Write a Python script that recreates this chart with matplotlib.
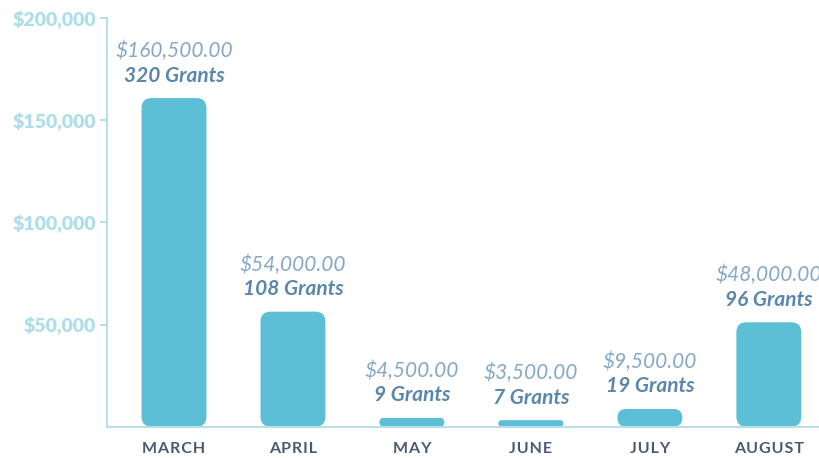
import matplotlib
matplotlib.use("Agg")
import matplotlib.pyplot as plt
from matplotlib.patches import FancyBboxPatch

months = ["MARCH", "APRIL", "MAY", "JUNE", "JULY", "AUGUST"]
amounts = [160500, 54000, 4500, 3500, 9500, 48000]
grants = [320, 108, 9, 7, 19, 96]
# bar heights as drawn in the picture (they differ a little from the labels)
heights = [160800, 56300, 4300, 3200, 8700, 51100]
yticks = [50000, 100000, 150000, 200000]

BAR = "#5dbfd6"
AXIS = "#b9e0ea"
TICK_TXT = "#addee9"
AMT = "#86a8c6"
GRANT = "#5a87ac"
MONTH = "#4c5a70"

plt.rcParams["font.family"] = ["Lato", "DejaVu Sans"]

W, H = 820, 458
fig = plt.figure(figsize=(W / 100, H / 100), dpi=100)
ax = fig.add_axes([107 / W, (H - 426.7) / H, (W - 107) / W, (426.7 - 18) / H])

x = list(range(len(months)))
ax.set_xlim(-0.563, 5.43)
ax.set_ylim(0, 200000)

bars = ax.bar(x, heights, width=0.546, color=BAR)

# swap plain bars for rounded ones
px_x = (W - 107) / (5.43 + 0.563)
px_y = (426.7 - 18) / 200000
aspect = px_x / px_y
for b in bars:
    bx, by = b.get_x(), b.get_y()
    bw, bh = b.get_width(), b.get_height()
    r = min(10 / px_x, bh / aspect / 2, bw / 2)
    patch = FancyBboxPatch((bx, by), bw, bh,
                           boxstyle=f"round,pad=0,rounding_size={r}",
                           mutation_aspect=aspect,
                           facecolor=BAR, edgecolor="none")
    b.remove()
    ax.add_patch(patch)

for xi, h, amt, g in zip(x, heights, amounts, grants):
    ax.annotate(f"{g} Grants", (xi, h), xytext=(0, 9), textcoords="offset points",
                ha="center", va="bottom", fontsize=15, fontweight="bold",
                style="italic", color=GRANT)
    ax.annotate(f"${amt:,.2f}", (xi, h), xytext=(0, 26.5), textcoords="offset points",
                ha="center", va="bottom", fontsize=15, fontweight="normal",
                style="italic", color=AMT)

for s in ["top", "right"]:
    ax.spines[s].set_visible(False)
for s in ["left", "bottom"]:
    ax.spines[s].set_color(AXIS)
    ax.spines[s].set_linewidth(1.5)

ax.set_yticks(yticks)
ax.set_yticklabels([f"${v:,.0f}" for v in yticks], fontweight="heavy")
ax.tick_params(axis="y", length=5, width=1.5, color=AXIS, pad=3,
               labelsize=14, labelcolor=TICK_TXT)

ax.set_xticks(x)
ax.set_xticklabels(["\u200a".join(m) for m in months], fontweight="bold")
ax.tick_params(axis="x", length=0, pad=11, labelsize=11.5, labelcolor=MONTH)

fig.savefig("out.png", dpi=100)
